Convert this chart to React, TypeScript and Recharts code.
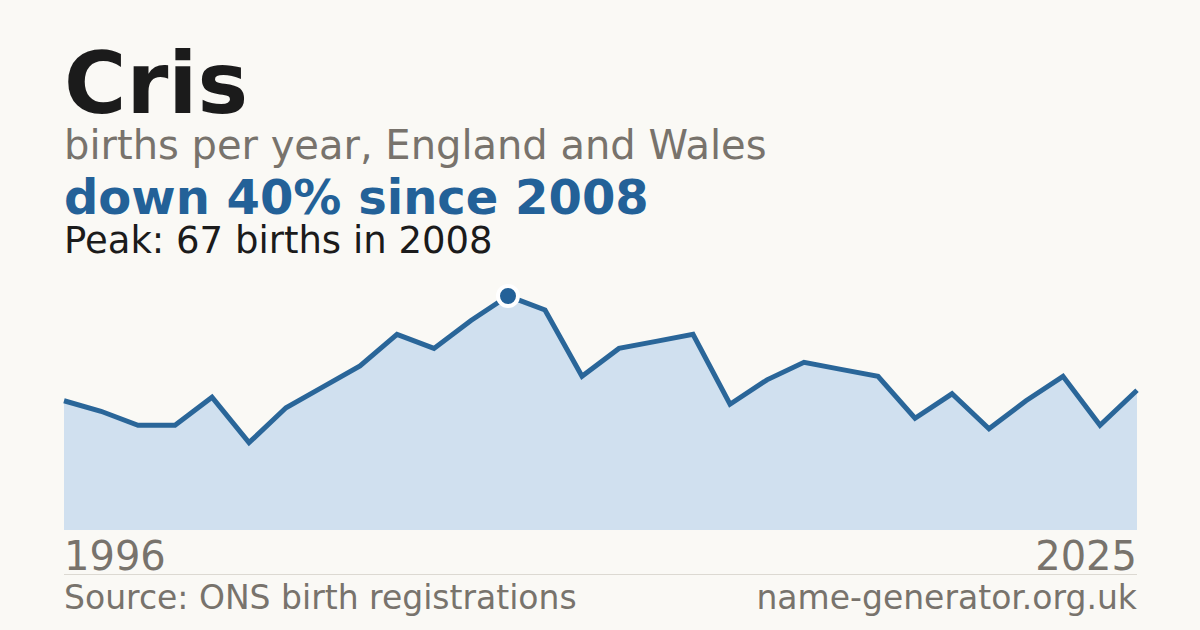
import React from "react";
import { AreaChart, Area, XAxis, YAxis } from "recharts";

const years: string[] = [
  "1996", "1997", "1998", "1999", "2000", "2001", "2002", "2003", "2004", "2005",
  "2006", "2007", "2008", "2009", "2010", "2011", "2012", "2013", "2014", "2015",
  "2016", "2017", "2018", "2019", "2020", "2021", "2022", "2023", "2024", "2025",
];
const births: number[] = [
  37, 34, 30, 30, 38, 25, 35, 41, 47, 56,
  52, 60, 67, 63, 44, 52, 54, 56, 36, 43,
  48, 46, 44, 32, 39, 29, 37, 44, 30, 40,
];
const tickYears: string[] = ["1996", "2025"];
const peakYear = "2008";
const peakValue = 67;

const data = years.map((y, i) => ({ year: y, births: births[i] }));

const BG = "#faf9f5";
const BLUE = "#236198";
const GREY = "#78736c";
const DARK = "#1b1b1b";
const FONT = "'DejaVu Sans', sans-serif";

const YearTick = (props: any) => {
  const { x, payload } = props;
  const first = payload.value === tickYears[0];
  return (
    <text
      x={x}
      y={570}
      textAnchor={first ? "start" : "end"}
      fontFamily={FONT}
      fontSize={40}
      fill={GREY}
    >
      {payload.value}
    </text>
  );
};

const PeakDot = (props: any) => {
  const { cx, cy, payload, index } = props;
  if (payload && payload.year === peakYear) {
    return <circle key={`d${index}`} cx={cx} cy={cy} r={10} fill={BLUE} stroke="#ffffff" strokeWidth={4} />;
  }
  return <g key={`d${index}`} />;
};

export default function App() {
  return (
    <div
      style={{
        position: "absolute",
        left: 0,
        top: 0,
        width: 1200,
        height: 630,
        background: BG,
        overflow: "hidden",
      }}
    >
      <div style={{ position: "absolute", left: 0, top: 0 }}>
        <AreaChart
          width={1200}
          height={630}
          data={data}
          margin={{ top: 296, right: 63, bottom: 0, left: 64 }}
        >
          <YAxis hide domain={[0, peakValue]} />
          <XAxis
            dataKey="year"
            ticks={tickYears}
            interval={0}
            axisLine={false}
            tickLine={false}
            tick={<YearTick />}
            height={100}
          />
          <Area
            type="linear"
            dataKey="births"
            stroke="#2a6699"
            strokeWidth={5}
            fill="#d0e0ef"
            fillOpacity={1}
            dot={<PeakDot />}
            activeDot={false}
            isAnimationActive={false}
          />
        </AreaChart>
      </div>
      <svg
        width={1200}
        height={630}
        style={{ position: "absolute", left: 0, top: 0, pointerEvents: "none" }}
      >
        <text x={64} y={113} fontFamily={FONT} fontWeight="bold" fontSize={85} fill={DARK}>
          Cris
        </text>
        <text x={64} y={159} fontFamily={FONT} fontSize={40} fill={GREY}>
          births per year, England and Wales
        </text>
        <text x={64} y={214} fontFamily={FONT} fontWeight="bold" fontSize={48} fill={BLUE}>
          down 40% since 2008
        </text>
        <text x={64} y={253} fontFamily={FONT} fontSize={37} fill={DARK}>
          Peak: 67 births in 2008
        </text>
        <line x1={64} x2={1137} y1={574.5} y2={574.5} stroke="#dcd9d2" strokeWidth={1} />
        <text x={64} y={609} fontFamily={FONT} fontSize={33} fill={GREY}>
          Source: ONS birth registrations
        </text>
        <text x={1137} y={609} textAnchor="end" fontFamily={FONT} fontSize={33} fill={GREY}>
          name-generator.org.uk
        </text>
      </svg>
    </div>
  );
}
